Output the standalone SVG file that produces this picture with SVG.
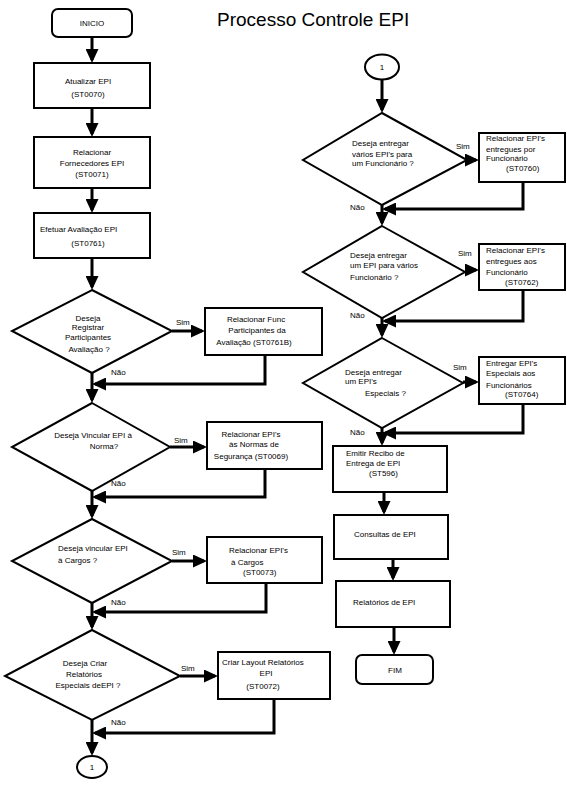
<svg xmlns="http://www.w3.org/2000/svg" width="567" height="785" viewBox="0 0 567 785">
<defs>
<marker id="ah" markerUnits="userSpaceOnUse" markerWidth="14" markerHeight="13" viewBox="0 0 14 13" refX="11" refY="6.5" orient="auto">
<path d="M0,0 L14,6.5 L0,13 z" fill="#000"/>
</marker>
<style>
.box{fill:#fff;stroke:#000;stroke-width:2}
.term{fill:#fff;stroke:#000;stroke-width:2}
.conn{fill:none;stroke:#000;stroke-width:3;marker-end:url(#ah)}
text{font-family:"Liberation Sans",Arial,sans-serif;font-size:8px;fill:#000}
.c{text-anchor:middle}
.title{font-size:19px}
</style>
</defs>
<rect width="567" height="785" fill="#fff"/>
<text class="title" x="217" y="26">Processo Controle EPI</text>

<g id="connectors">
<path class="conn" d="M92,37 V60"/>
<path class="conn" d="M92,108 V134"/>
<path class="conn" d="M92,188 V210"/>
<path class="conn" d="M92,258 V287"/>
<path class="conn" d="M92,373 V400"/>
<path class="conn" d="M92,491 V516"/>
<path class="conn" d="M92,603 V627"/>
<path class="conn" d="M92,720 V753"/>
<path class="conn" d="M172,331 H202"/>
<path class="conn" d="M170,447 H204"/>
<path class="conn" d="M172,561 H204"/>
<path class="conn" d="M180,676 H215"/>
<path class="conn" d="M265,355 V384 H95"/>
<path class="conn" d="M265,469 V497 H95"/>
<path class="conn" d="M266,583 V612 H95"/>
<path class="conn" d="M274,699 V733 H95"/>
<path class="conn" d="M382,80 V110"/>
<path class="conn" d="M382,205 V223"/>
<path class="conn" d="M382,318 V335"/>
<path class="conn" d="M382,428 V443"/>
<path class="conn" d="M384,492 V512"/>
<path class="conn" d="M393,559 V578"/>
<path class="conn" d="M394,627 V652"/>
<path class="conn" d="M467,160 H476"/>
<path class="conn" d="M465,270 H476"/>
<path class="conn" d="M463,382 H476"/>
<path class="conn" d="M523,182 V209 H385"/>
<path class="conn" d="M523,290 V321 H385"/>
<path class="conn" d="M523,404 V433 H385"/>
<text x="176" y="325">Sim</text>
<text x="111" y="375">Não</text>
<text x="174" y="443">Sim</text>
<text x="111" y="486">Não</text>
<text x="172" y="555">Sim</text>
<text x="111" y="605">Não</text>
<text x="181" y="671">Sim</text>
<text x="111" y="725">Não</text>
<text x="456" y="149">Sim</text>
<text x="350" y="210">Não</text>
<text x="458" y="256">Sim</text>
<text x="350" y="318">Não</text>
<text x="453" y="370">Sim</text>
<text x="350" y="435">Não</text>
</g>

<g id="inicio">
<rect class="term" x="52" y="9" width="80" height="28" rx="6"/>
<text class="c" x="92" y="26">INICIO</text>
</g>
<g id="atualizar">
<rect class="box" x="34" y="63" width="116" height="45"/>
<text class="c" x="88" y="84">Atualizar EPI</text>
<text class="c" x="88" y="97">(ST0070)</text>
</g>
<g id="fornecedores">
<rect class="box" x="34" y="137" width="116" height="51"/>
<text class="c" x="92" y="155">Relacionar</text>
<text class="c" x="92" y="166">Fornecedores EPI</text>
<text class="c" x="92" y="177">(ST0071)</text>
</g>
<g id="avaliacao">
<rect class="box" x="34" y="213" width="116" height="45"/>
<text x="40" y="232">Efetuar Avaliação EPI</text>
<text class="c" x="88" y="246">(ST0761)</text>
</g>
<g id="d-registrar">
<polygon class="box" points="92,290 172,331 92,373 12,331"/>
<text class="c" x="88" y="321">Deseja</text>
<text class="c" x="88" y="330">Registrar</text>
<text class="c" x="88" y="340">Participantes</text>
<text class="c" x="89" y="352">Avaliação ?</text>
</g>
<g id="func-participantes">
<rect class="box" x="205" y="308" width="117" height="47"/>
<text class="c" x="256" y="322">Relacionar Func</text>
<text class="c" x="257" y="333">Participantes da</text>
<text class="c" x="254" y="345">Avaliação (ST0761B)</text>
</g>
<g id="d-norma">
<polygon class="box" points="92,403 170,447 92,491 12,447"/>
<text class="c" x="93" y="438">Deseja Vincular EPI à</text>
<text class="c" x="104" y="449">Norma?</text>
</g>
<g id="normas">
<rect class="box" x="207" y="422" width="115" height="47"/>
<text class="c" x="251" y="437">Relacionar EPI's</text>
<text class="c" x="254" y="447">às Normas de</text>
<text class="c" x="251" y="459">Segurança (ST0069)</text>
</g>
<g id="d-cargos">
<polygon class="box" points="92,519 172,561 92,603 12,561"/>
<text x="58" y="551">Deseja vincular EPI</text>
<text x="58" y="563">à Cargos ?</text>
</g>
<g id="cargos">
<rect class="box" x="207" y="537" width="115" height="46"/>
<text x="229" y="553">Relacionar EPI's</text>
<text x="231" y="565">à Cargos</text>
<text x="243" y="575">(ST0073)</text>
</g>
<g id="d-relatorios">
<polygon class="box" points="92,630 180,676 92,720 5,676"/>
<text class="c" x="85" y="666">Deseja Criar</text>
<text class="c" x="84" y="677">Relatórios</text>
<text class="c" x="88" y="688">Especiais deEPI ?</text>
</g>
<g id="layout">
<rect class="box" x="218" y="652" width="112" height="47"/>
<text x="222" y="665">Criar Layout Relatórios</text>
<text class="c" x="266" y="676">EPI</text>
<text class="c" x="263" y="689">(ST0072)</text>
</g>
<g id="con1-a">
<ellipse class="box" cx="92" cy="767" rx="15" ry="11"/>
<text class="c" x="92" y="770">1</text>
</g>

<g id="con1-b">
<ellipse class="box" cx="382" cy="67" rx="17" ry="12.5"/>
<text class="c" x="382" y="70">1</text>
</g>
<g id="d-varios-epi">
<polygon class="box" points="382,113 467,160 382,205 303,160"/>
<text x="352" y="146">Deseja entregar</text>
<text x="352" y="157">vários EPI's para</text>
<text x="352" y="166">um Funcionário ?</text>
</g>
<g id="por-funcionario">
<rect class="box" x="479" y="133" width="86" height="49"/>
<text x="486" y="141">Relacionar EPI's</text>
<text x="486" y="152">entregues por</text>
<text x="486" y="161">Funcionário</text>
<text x="506" y="171">(ST0760)</text>
</g>
<g id="d-varios-func">
<polygon class="box" points="382,226 465,272 382,318 303,272"/>
<text x="350" y="258">Deseja entregar</text>
<text x="350" y="268">um EPI para vários</text>
<text x="350" y="280">Funcionário ?</text>
</g>
<g id="aos-funcionario">
<rect class="box" x="479" y="244" width="86" height="46"/>
<text x="486" y="253">Relacionar EPI's</text>
<text x="486" y="264">entregues aos</text>
<text x="486" y="275">Funcionário</text>
<text x="505" y="285">(ST0762)</text>
</g>
<g id="d-especiais">
<polygon class="box" points="382,338 463,383 382,428 303,383"/>
<text x="345" y="375">Deseja entregar</text>
<text x="345" y="384">um EPI's</text>
<text x="365" y="396">Especiais ?</text>
</g>
<g id="especiais">
<rect class="box" x="479" y="357" width="86" height="47"/>
<text x="486" y="366">Entregar EPI's</text>
<text x="486" y="376">Especiais aos</text>
<text x="486" y="388">Funcionários</text>
<text x="505" y="397">(ST0764)</text>
</g>
<g id="recibo">
<rect class="box" x="333" y="446" width="114" height="46"/>
<text x="346" y="456">Emitir Recibo de</text>
<text x="346" y="466">Entrega de EPI</text>
<text x="369" y="476">(ST596)</text>
</g>
<g id="consultas">
<rect class="box" x="334" y="515" width="114" height="44"/>
<text x="354" y="537">Consultas de EPI</text>
</g>
<g id="relatorios">
<rect class="box" x="336" y="581" width="114" height="46"/>
<text x="353" y="605">Relatórios de EPI</text>
</g>
<g id="fim">
<rect class="term" x="356" y="655" width="77" height="29" rx="6"/>
<text class="c" x="395" y="673">FIM</text>
</g>
</svg>
